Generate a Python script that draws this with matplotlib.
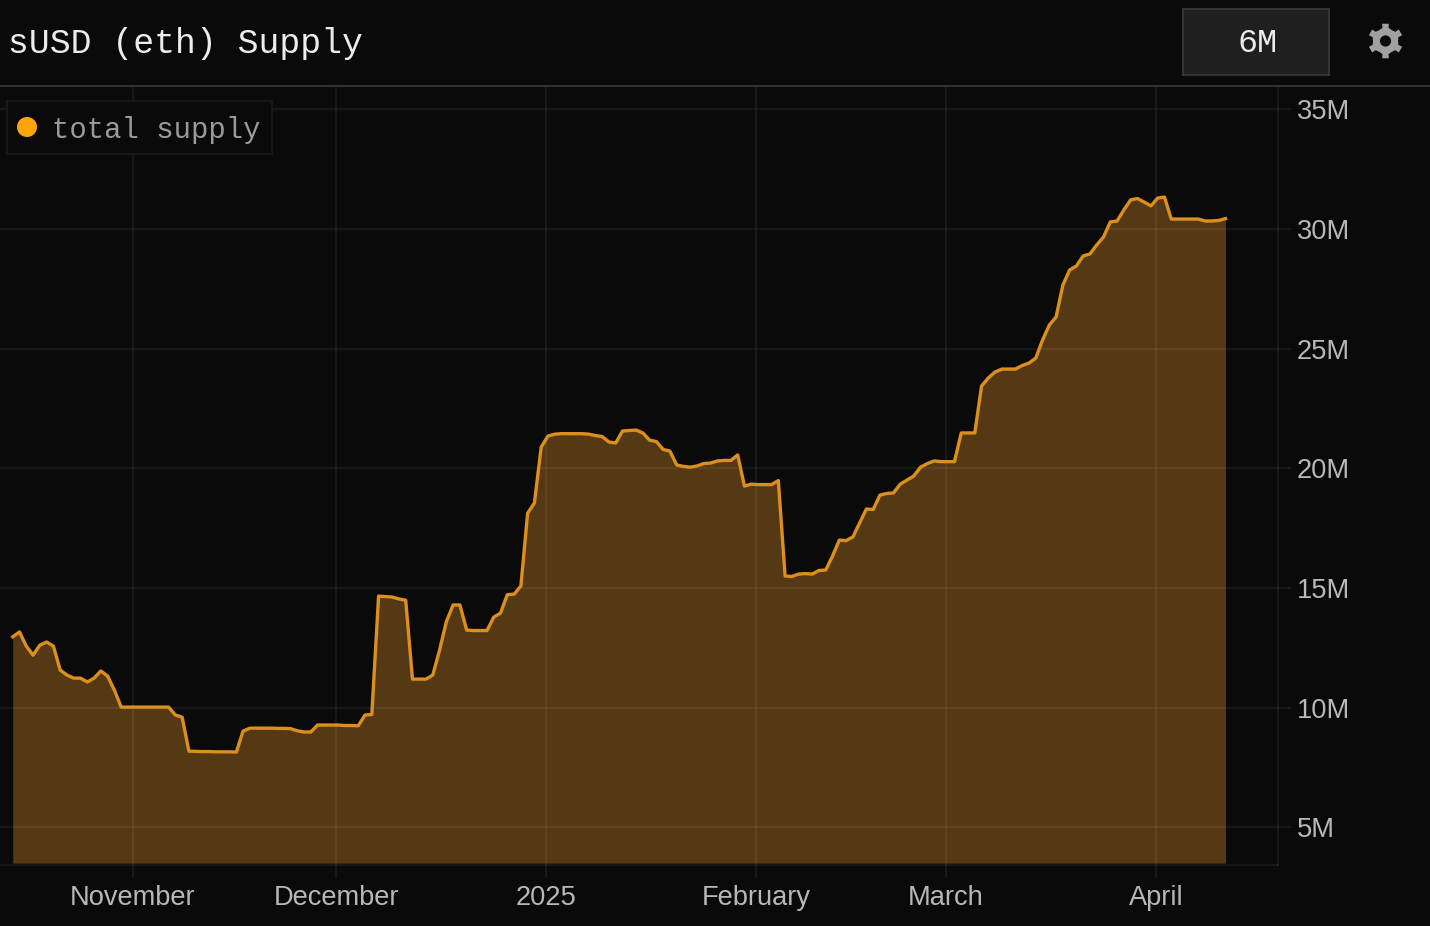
import numpy as np
import pandas as pd
import matplotlib
matplotlib.use('Agg')
import matplotlib.pyplot as plt
import matplotlib.dates as mdates
from matplotlib.patches import Rectangle, Circle, PathPatch
from matplotlib.path import Path

start_date = '2024-10-14 06:00'

supply = [
    12.96, 13.16, 12.57, 12.19, 12.61, 12.74, 12.57, 11.57, 11.36, 11.23,
    11.23, 11.07, 11.23, 11.53, 11.32, 10.73, 10.02, 10.02, 10.02, 10.02,
    10.02, 10.02, 10.02, 10.02, 9.69, 9.60, 8.18, 8.17, 8.16, 8.16,
    8.15, 8.15, 8.15, 8.14, 9.02, 9.14, 9.14, 9.14, 9.14, 9.13,
    9.13, 9.12, 9.03, 8.98, 8.98, 9.27, 9.27, 9.27, 9.27, 9.25,
    9.25, 9.24, 9.69, 9.71, 14.66, 14.64, 14.62, 14.54, 14.49, 11.19,
    11.19, 11.19, 11.36, 12.40, 13.59, 14.29, 14.29, 13.24, 13.22, 13.22,
    13.22, 13.78, 13.95, 14.72, 14.74, 15.08, 18.13, 18.55, 20.89, 21.35,
    21.43, 21.45, 21.45, 21.45, 21.45, 21.43, 21.37, 21.33, 21.10, 21.06,
    21.56, 21.58, 21.60, 21.48, 21.18, 21.12, 20.79, 20.72, 20.14, 20.08,
    20.05, 20.10, 20.20, 20.22, 20.31, 20.33, 20.33, 20.56, 19.26, 19.34,
    19.32, 19.32, 19.32, 19.49, 15.50, 15.48, 15.58, 15.60, 15.58, 15.73,
    15.75, 16.33, 17.00, 16.98, 17.13, 17.71, 18.30, 18.28, 18.88, 18.95,
    18.97, 19.34, 19.51, 19.68, 20.05, 20.20, 20.31, 20.28, 20.28, 20.28,
    21.48, 21.48, 21.48, 23.44, 23.78, 24.03, 24.15, 24.15, 24.15, 24.30,
    24.40, 24.61, 25.36, 25.99, 26.33, 27.66, 28.29, 28.46, 28.88, 28.96,
    29.34, 29.67, 30.30, 30.34, 30.80, 31.22, 31.28, 31.13, 30.97, 31.30,
    31.34, 30.42, 30.42, 30.42, 30.42, 30.42, 30.34, 30.34, 30.36, 30.44,
]

month_ticks = ['2024-11-01', '2024-12-01', '2025-01-01', '2025-02-01', '2025-03-01', '2025-04-01']
month_labels = ['November', 'December', '2025', 'February', 'March', 'April']
y_ticks = [5, 10, 15, 20, 25, 30, 35]
y_labels = ['5M', '10M', '15M', '20M', '25M', '30M', '35M']

BG = '#0a0a0b'
ORANGE = '#FFA50A'
LINE = '#DC8F1D'
GRID = (1, 1, 1, 0.06)
TEXT = '#b8b8b8'
W, H = 1430, 926

dates = pd.date_range(start_date, periods=len(supply), freq='D')

fig = plt.figure(figsize=(14.3, 9.26), dpi=100, facecolor=BG)
ax = fig.add_axes([0, 1 - 865 / H, 1278 / W, (865 - 87) / H], facecolor=BG)

ax.fill_between(dates, supply, 3.5, color='#FFA52D', alpha=0.31, lw=0, zorder=2)
ax.plot(dates, supply, color=LINE, lw=2.4, zorder=4, solid_joinstyle='round')

nov1 = mdates.date2num(pd.Timestamp('2024-11-01'))
ax.set_xlim(nov1 - 133 / 6.775, nov1 + (1278 - 133) / 6.775)
ax.set_ylim(3.42, 35.94)

ax.set_xticks(pd.to_datetime(month_ticks))
ax.set_xticklabels(month_labels)
ax.set_yticks(y_ticks)
ax.set_yticklabels(y_labels)
ax.yaxis.tick_right()
ax.grid(True, color='white', alpha=0.06, lw=1.6, zorder=3)
ax.set_axisbelow(False)
ax.tick_params(axis='x', length=9, width=1.4, color=GRID, pad=5.5, labelsize=19.6,
               labelcolor=TEXT, labelfontfamily=['Liberation Sans'])
ax.tick_params(axis='y', length=9, width=1.4, color=GRID, pad=4.5, labelsize=19.6,
               labelcolor=TEXT, labelfontfamily=['Liberation Sans'])
for s in ['top', 'left']:
    ax.spines[s].set_visible(False)
for s in ['right', 'bottom']:
    ax.spines[s].set_color(GRID)
    ax.spines[s].set_linewidth(1.4)

# header, button, legend and gear are drawn in pixel coordinates
ui = fig.add_axes([0, 0, 1, 1], facecolor='none')
ui.set_xlim(0, W)
ui.set_ylim(H, 0)
ui.axis('off')

ui.plot([0, W], [86, 86], color='#333333', lw=1.4)
ui.text(8, 40, 'sUSD (eth) Supply', family='Liberation Mono', fontsize=25,
        color='#ececec', va='center_baseline', ha='left')

ui.add_patch(Rectangle((1182.5, 8.5), 146, 66, facecolor='#1f1f1f', edgecolor='#363636', lw=1.4))
ui.text(1257, 40, '6M', family='Liberation Mono', fontsize=24, color='#ececec',
        va='center_baseline', ha='center')

cx, cy = 1385.5, 41
angles = np.deg2rad(np.arange(0, 360, 60) - 90)
pts = []
for a in angles:
    for da, r in [(-30, 12.5), (-13, 13.5), (-11, 17.6), (11, 17.6), (13, 13.5)]:
        t = a + np.deg2rad(da)
        pts.append((cx + r * np.cos(t), cy + r * np.sin(t)))
pts.append(pts[0])
ui.add_patch(PathPatch(Path(pts, closed=True), facecolor='#a0a0a0', edgecolor='none'))
ui.add_patch(Circle((cx, cy), 5.6, facecolor=BG, edgecolor='none'))

ui.add_patch(Rectangle((7, 100.5), 265, 53, facecolor=BG, edgecolor='#191919', lw=1.4))
ui.add_patch(Circle((27, 127), 10, facecolor=ORANGE, edgecolor='none'))
ui.text(52, 127, 'total supply', family='Liberation Mono', fontsize=20.8, color='#9a9a9a',
        va='center_baseline', ha='left')

fig.savefig('out.png', dpi=100, facecolor=BG)
